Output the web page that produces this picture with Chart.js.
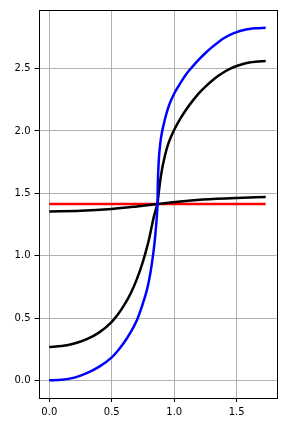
<!DOCTYPE html>
<html>
<head>
<meta charset="utf-8">
<script src="https://cdn.jsdelivr.net/npm/chart.js@4/dist/chart.umd.min.js"></script>
<style>
html,body{margin:0;padding:0;background:#fff;}
canvas{display:block;}
</style>
</head>
<body>
<canvas id="c" width="286" height="429"></canvas>
<script>
// Data
const blueX = [0, 0.1, 0.2, 0.3, 0.4, 0.5, 0.55, 0.6, 0.65, 0.7, 0.75, 0.78, 0.8, 0.82, 0.835, 0.845, 0.855, 0.861, 0.866,
               0.868, 0.871, 0.875, 0.881, 0.89, 0.9, 0.915, 0.935, 0.96, 1.0, 1.05, 1.1, 1.15, 1.2, 1.25, 1.3, 1.35, 1.4, 1.45, 1.5, 1.55, 1.6, 1.65, 1.732];
const blueY = [0, 0.004, 0.022, 0.058, 0.11, 0.185, 0.24, 0.305, 0.385, 0.48, 0.62, 0.72, 0.81, 0.93, 1.04, 1.13, 1.24, 1.32, 1.414,
               1.55, 1.65, 1.74, 1.83, 1.915, 1.98, 2.05, 2.13, 2.21, 2.3, 2.385, 2.46, 2.52, 2.575, 2.625, 2.67, 2.71, 2.745, 2.772, 2.792, 2.807, 2.817, 2.823, 2.827];

const blackX = [0, 0.1, 0.2, 0.3, 0.4, 0.5, 0.55, 0.6, 0.65, 0.7, 0.75, 0.78, 0.8, 0.82, 0.835, 0.85, 0.858, 0.866,
                0.872, 0.881, 0.89, 0.9, 0.915, 0.93, 0.95, 0.975, 1.0, 1.05, 1.1, 1.15, 1.2, 1.25, 1.3, 1.35, 1.4, 1.45, 1.5, 1.55, 1.6, 1.65, 1.732];
const blackY = [0.268, 0.275, 0.295, 0.33, 0.385, 0.47, 0.53, 0.605, 0.695, 0.81, 0.955, 1.06, 1.14, 1.235, 1.305, 1.36, 1.39, 1.414,
                1.47, 1.547, 1.615, 1.68, 1.755, 1.82, 1.89, 1.955, 2.01, 2.1, 2.178, 2.245, 2.305, 2.355, 2.40, 2.44, 2.473, 2.50, 2.521, 2.537, 2.548, 2.555, 2.56];

const flatX = [0, 0.25, 0.5, 0.7, 0.866, 1.03, 1.23, 1.5, 1.732];
const flatY = [1.355, 1.360, 1.375, 1.395, 1.414, 1.433, 1.450, 1.463, 1.470];

const redX = [0, 1.732];
const redY = [1.414, 1.414];

const xTicks = [0, 0.5, 1.0, 1.5];
const yTicks = [0, 0.5, 1.0, 1.5, 2.0, 2.5];

function pts(xs, ys){ return xs.map((x,i)=>({x:x, y:ys[i]})); }

const frame = {
  id: 'frame',
  afterDatasetsDraw(chart){
    const a = chart.chartArea, ctx = chart.ctx;
    ctx.save();
    ctx.strokeStyle = '#000';
    ctx.lineWidth = 1;
    ctx.strokeRect(Math.round(a.left)+0.5, Math.round(a.top)+0.5, Math.round(a.right-a.left), Math.round(a.bottom-a.top));
    ctx.restore();
  }
};

const common = {pointRadius:0, borderWidth:2.5, fill:false, cubicInterpolationMode:'monotone'};

new Chart(document.getElementById('c'), {
  type: 'line',
  data: {
    datasets: [
      Object.assign({data: pts(blueX, blueY), borderColor:'#0000ff'}, common),
      Object.assign({data: pts(blackX, blackY), borderColor:'#000000'}, common),
      Object.assign({data: pts(flatX, flatY), borderColor:'#000000'}, common),
      Object.assign({data: pts(redX, redY), borderColor:'#ff0000'}, common)
    ]
  },
  options: {
    responsive: false,
    animation: false,
    devicePixelRatio: 1,
    layout: {padding: {left:0, right:9.5, top:8, bottom:0}},
    plugins: {legend:{display:false}, tooltip:{enabled:false}},
    scales: {
      x: {
        type: 'linear',
        min: -0.0866, max: 1.8186,
        afterBuildTicks: s => { s.ticks = xTicks.map(v=>({value:v})); },
        afterFit: s => { s.height = 31; },
        grid: {color:'#b0b0b0', lineWidth:1, tickColor:'#000', tickLength:4},
        border: {display:false},
        ticks: {color:'#000', padding:4, maxRotation:0, font:{family:'DejaVu Sans', size:10},
          callback: v => Number(v).toFixed(1)}
      },
      y: {
        type: 'linear',
        min: -0.1414, max: 2.9698,
        afterBuildTicks: s => { s.ticks = yTicks.map(v=>({value:v})); },
        afterFit: s => { s.width = 38.5; },
        grid: {color:'#b0b0b0', lineWidth:1, tickColor:'#000', tickLength:4},
        border: {display:false},
        ticks: {color:'#000', padding:4, font:{family:'DejaVu Sans', size:10},
          callback: v => Number(v).toFixed(1)}
      }
    }
  },
  plugins: [frame]
});
</script>
</body>
</html>
